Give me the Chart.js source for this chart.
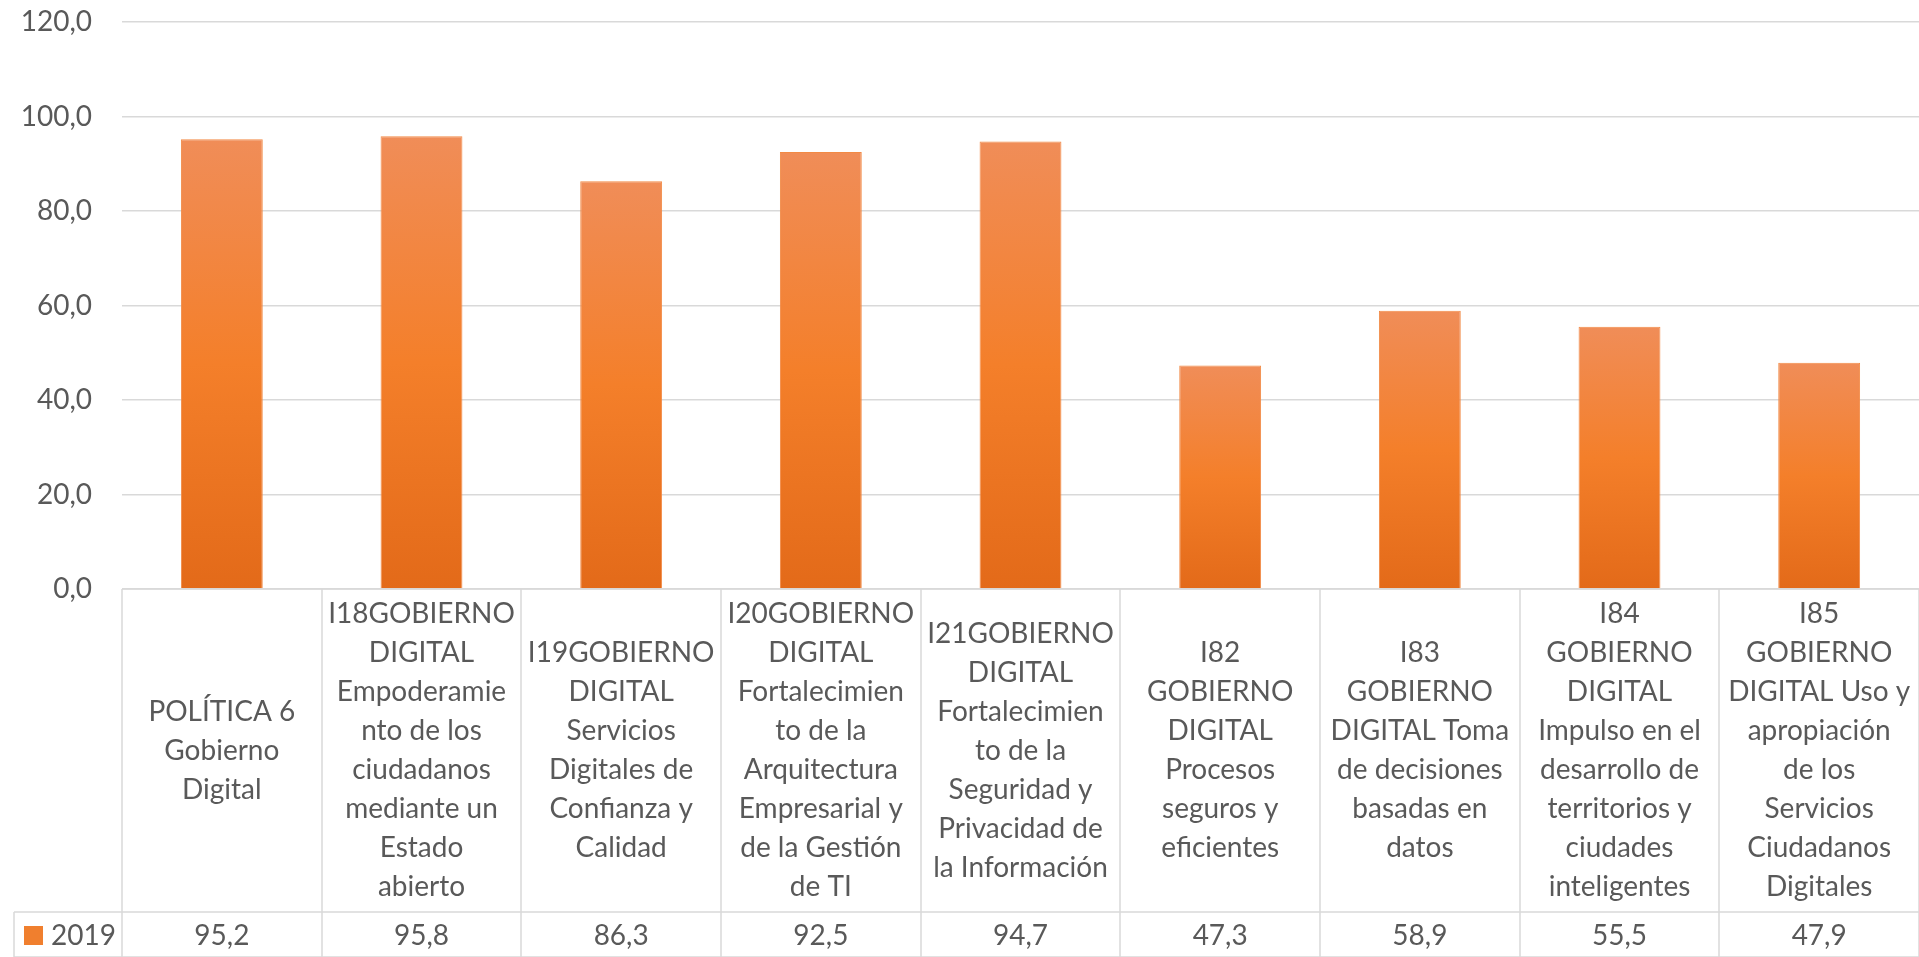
<!DOCTYPE html>
<html>
<head>
<meta charset="utf-8">
<script src="https://cdn.jsdelivr.net/npm/chart.js@4"></script>
<style>
  html, body { margin: 0; padding: 0; background: #fff; }
  #wrap { width: 1919px; height: 957px; position: relative; }
</style>
</head>
<body>
<div id="wrap"><canvas id="govChart"></canvas></div>
<script>
// category labels, already wrapped the way the table cells show them
const categoryLines = [
    ['POLÍTICA 6', 'Gobierno', 'Digital'],
    ['I18GOBIERNO', 'DIGITAL', 'Empoderamie', 'nto de los', 'ciudadanos', 'mediante un', 'Estado', 'abierto'],
    ['I19GOBIERNO', 'DIGITAL', 'Servicios', 'Digitales de', 'Confianza y', 'Calidad'],
    ['I20GOBIERNO', 'DIGITAL', 'Fortalecimien', 'to de la', 'Arquitectura', 'Empresarial y', 'de la Gestión', 'de TI'],
    ['I21GOBIERNO', 'DIGITAL', 'Fortalecimien', 'to de la', 'Seguridad y', 'Privacidad de', 'la Información'],
    ['I82', 'GOBIERNO', 'DIGITAL', 'Procesos', 'seguros y', 'eficientes'],
    ['I83', 'GOBIERNO', 'DIGITAL Toma', 'de decisiones', 'basadas en', 'datos'],
    ['I84', 'GOBIERNO', 'DIGITAL', 'Impulso en el', 'desarrollo de', 'territorios y', 'ciudades', 'inteligentes'],
    ['I85', 'GOBIERNO', 'DIGITAL Uso y', 'apropiación', 'de los', 'Servicios', 'Ciudadanos', 'Digitales']
];
const seriesName = '2019';
const values2019 = [95.2, 95.8, 86.3, 92.5, 94.7, 47.3, 58.9, 55.5, 47.9];
const yTicks = [0, 20, 40, 60, 80, 100, 120];

const TEXT = '#595959';
const LINE = '#D9D9D9';
const FONT = "28px Lato, 'Open Sans', sans-serif";
const PLOT_TOP = 22;

function fmt(v) {
    return v.toFixed(1).replace('.', ',');
}

// each bar gets its own light-top / dark-bottom gradient like the Excel fill
function barFill(context) {
    const chart = context.chart;
    const area = chart.chartArea;
    if (!area) return '#F07F2E';
    const y = chart.scales.y;
    const top = y.getPixelForValue(context.raw);
    const bottom = y.getPixelForValue(0);
    const g = chart.ctx.createLinearGradient(0, top, 0, bottom);
    g.addColorStop(0, '#F08D58');
    g.addColorStop(0.5, '#F47F2A');
    g.addColorStop(1, '#E36A19');
    return g;
}

// data table drawn under the plot, in the x scale's columns
const dataTablePlugin = {
    id: 'dataTable',
    afterDraw(chart) {
        const ctx = chart.ctx;
        const x = chart.scales.x;
        const area = chart.chartArea;
        const n = categoryLines.length;
        const colW = (area.right - area.left) / n;
        const top = area.bottom;
        const catRowH = 323;
        const valRowH = 45;
        const valTop = top + catRowH;
        const bottom = valTop + valRowH;
        const lineH = 39;

        ctx.save();
        ctx.strokeStyle = LINE;
        ctx.lineWidth = 1.5;
        ctx.beginPath();
        ctx.moveTo(area.left, top);
        ctx.lineTo(area.right, top);
        ctx.moveTo(14, valTop);
        ctx.lineTo(area.right, valTop);
        ctx.moveTo(14, bottom);
        ctx.lineTo(area.right, bottom);
        ctx.moveTo(14, valTop);
        ctx.lineTo(14, bottom);
        for (let i = 0; i <= n; i++) {
            const bx = Math.round(area.left + i * colW);
            ctx.moveTo(bx, top);
            ctx.lineTo(bx, bottom);
        }
        ctx.stroke();

        ctx.fillStyle = TEXT;
        ctx.font = FONT;
        ctx.textAlign = 'center';
        ctx.textBaseline = 'middle';
        const catMid = top + catRowH / 2;
        categoryLines.forEach((lines, i) => {
            const cx = x.getPixelForValue(i);
            const start = catMid - (lines.length - 1) * lineH / 2;
            lines.forEach((t, k) => ctx.fillText(t, cx, start + k * lineH));
            ctx.fillText(fmt(values2019[i]), cx, valTop + valRowH / 2 + 1);
        });

        // legend key cell
        ctx.fillStyle = '#F07F2E';
        ctx.fillRect(24, valTop + 14, 19, 19);
        ctx.fillStyle = TEXT;
        ctx.textAlign = 'left';
        ctx.fillText(seriesName, 51, valTop + valRowH / 2 + 1);
        ctx.restore();
    }
};

const ctx = document.getElementById('govChart');

new Chart(ctx, {
    type: 'bar',
    data: {
        labels: categoryLines.map(l => l.join(' ')),
        datasets: [{
            label: seriesName,
            data: values2019,
            backgroundColor: barFill,
            borderColor: '#F28A45',
            borderWidth: 1,
            categoryPercentage: 1,
            barPercentage: 0.41
        }]
    },
    options: {
        responsive: true,
        maintainAspectRatio: false,
        animation: false,
        layout: {
            padding: { top: 0, right: 0, bottom: 368, left: 0 }
        },
        plugins: {
            legend: { display: false },
            tooltip: { enabled: false }
        },
        scales: {
            x: {
                display: false
            },
            y: {
                min: 0,
                max: 120,
                afterBuildTicks: (scale) => {
                    scale.ticks = yTicks.map(v => ({ value: v }));
                },
                afterFit: (scale) => {
                    scale.width = 122;
                    scale.paddingTop = PLOT_TOP;
                },
                border: { display: false },
                grid: {
                    color: LINE,
                    lineWidth: 1.5,
                    drawTicks: false
                },
                ticks: {
                    color: TEXT,
                    padding: 30,
                    font: { family: "Lato, 'Open Sans', sans-serif", size: 28 },
                    callback: (v) => fmt(v)
                }
            }
        }
    },
    plugins: [dataTablePlugin]
});
</script>
</body>
</html>
